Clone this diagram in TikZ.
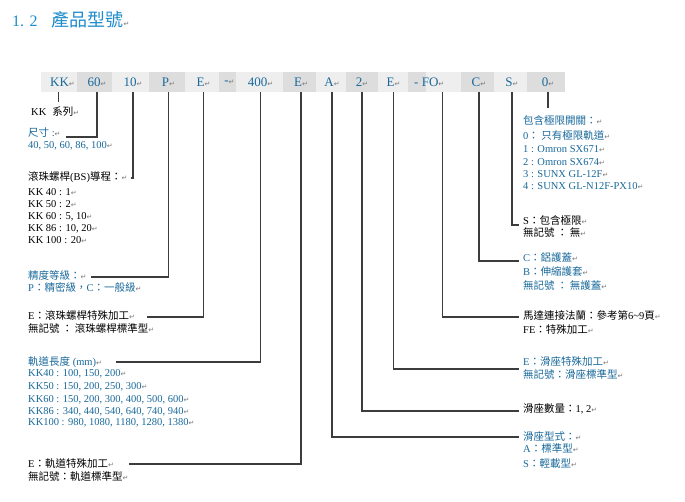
\documentclass[tikz,border=0pt]{standalone}
\usepackage{fontspec}
\setmainfont{Liberation Serif}
\newfontfamily\cjk{Noto Sans CJK TC}
\newfontfamily\dvs{DejaVu Sans}
\definecolor{tblue}{RGB}{30,140,205}
\definecolor{bblue}{RGB}{25,105,155}
\definecolor{cellL}{RGB}{238,238,238}
\definecolor{cellD}{RGB}{221,221,221}
\definecolor{linec}{RGB}{60,60,60}
\definecolor{retc}{RGB}{120,120,120}
\newcommand\cj[1]{{\cjk #1}}
\newcommand\rt{{\color{retc}\dvs\fontsize{7}{8}\selectfont ↵}}
\tikzset{
  txt/.style={anchor=west, inner sep=0pt, font=\fontsize{10.5}{12}\selectfont, text height=8pt, text depth=2pt},
  bl/.style={txt, text=bblue},
  bk/.style={txt, text=black},
  hdr/.style={inner sep=0pt, minimum height=20pt, font=\fontsize{13}{14}\selectfont, text=bblue},
  conn/.style={draw=linec, line width=1.1pt},
}
\begin{document}
\begin{tikzpicture}[x=1pt,y=-1pt]
\useasboundingbox (0,0) rectangle (685,502);
\fill[white] (0,0) rectangle (685,502);
% title
\node[anchor=west, inner sep=0pt, text=tblue] (title) at (12,20)
  {\fontsize{16}{18}\selectfont 1. 2\hspace{14pt}\cj{\fontsize{18}{20}\selectfont 產品型號}\rt};
% header cells
\foreach \a/\b/\c in {41/77/cellL, 77/112/cellD, 112/149/cellL, 149/185/cellD,
  185/219/cellL, 219/236/cellD, 236/283/cellL, 283/316/cellD, 316/346/cellL,
  346/378/cellD, 378/408/cellL, 408/426/cellD, 426/461/cellL, 461/494/cellD,
  494/527/cellL, 527/565/cellD}
  \fill[\c] (\a,72) rectangle (\b,92);
% header texts
\node[hdr] (hkk) at (62.5,82) {KK\rt};
\node[hdr] (h60) at (97,82) {60\rt};
\node[hdr] (h10) at (133,82) {10\rt};
\node[hdr] (hp) at (168.5,82) {P\rt};
\node[hdr] (he1) at (203.5,82) {E\rt};
\node[hdr] (hdash) at (229.5,82) {-\rt};
\node[hdr] (h400) at (260.5,82) {400\rt};
\node[hdr] (he2) at (301,82) {E\rt};
\node[hdr] (ha) at (332,82) {A\rt};
\node[hdr] (h2) at (362,82) {2\rt};
\node[hdr] (he3) at (393.5,82) {E\rt};
\node[hdr,anchor=west] (hfo) at (414,82) {- FO\rt};
\node[hdr] (hc) at (479,82) {C\rt};
\node[hdr] (hs) at (512,82) {S\rt};
\node[hdr] (h0) at (548,82) {0\rt};
% left labels
\node[bk] (kkser) at (31,113) {KK\hspace{6pt}\cj{系列}\rt};
\node[bl] (size) at (28,134) {\cj{尺寸} :\rt};
\node[bl] (sizev) at (28,146) {40, 50, 60, 86, 100\rt};
\node[bk] (lead) at (28,178) {\cj{滾珠螺桿}(BS)\cj{導程：}\rt};
\node[bk] (lead1) at (28,193) {KK 40 : 1\rt};
\node[bk] (lead2) at (28,205) {KK 50 : 2\rt};
\node[bk] (lead3) at (28,217) {KK 60 : 5, 10\rt};
\node[bk] (lead4) at (28,229) {KK 86 : 10, 20\rt};
\node[bk] (lead5) at (28,241) {KK 100 : 20\rt};
\node[bl] (prec) at (28,277) {\cj{精度等級：}\rt};
\node[bl] (prec1) at (28,289) {P\cj{：精密級，}C\cj{：一般級}\rt};
\node[bk] (ebs) at (28,317) {E\cj{：滾珠螺桿特殊加工}\rt};
\node[bk] (ebs1) at (28,330) {\cj{無記號 ： 滾珠螺桿標準型}\rt};
\node[bl] (rail) at (28,362) {\cj{軌道長度} (mm)\rt};
\node[bl] (rail1) at (28,373) {KK40 : 100, 150, 200\rt};
\node[bl] (rail2) at (28,386) {KK50 : 150, 200, 250, 300\rt};
\node[bl] (rail3) at (28,399) {KK60 : 150, 200, 300, 400, 500, 600\rt};
\node[bl] (rail4) at (28,411) {KK86 : 340, 440, 540, 640, 740, 940\rt};
\node[bl] (rail5) at (28,422) {KK100 : 980, 1080, 1180, 1280, 1380\rt};
\node[bk] (erail) at (28,464) {E\cj{：軌道特殊加工}\rt};
\node[bk] (erail1) at (28,477) {\cj{無記號：軌道標準型}\rt};
% right labels
\node[bl] (lim) at (523,122) {\cj{包含極限開關：}\rt};
\node[bl] (lim0) at (523,137) {0\cj{： 只有極限軌道}\rt};
\node[bl] (lim1) at (523,150) {1 : Omron SX671\rt};
\node[bl] (lim2) at (523,163) {2 : Omron SX674\rt};
\node[bl] (lim3) at (523,175) {3 : SUNX GL-12F\rt};
\node[bl] (lim4) at (523,187) {4 : SUNX GL-N12F-PX10\rt};
\node[bk] (slim) at (523,222) {S\cj{：包含極限}\rt};
\node[bk] (slim1) at (523,234) {\cj{無記號 ： 無}\rt};
\node[bl] (cov) at (523,259) {C\cj{：鋁護蓋}\rt};
\node[bl] (cov1) at (523,273) {B\cj{：伸縮護套}\rt};
\node[bl] (cov2) at (523,287) {\cj{無記號 ： 無護蓋}\rt};
\node[bk] (motor) at (523,317) {\cj{馬達連接法蘭：參考第}6\textasciitilde 9\cj{頁}\rt};
\node[bk] (motor1) at (523,331) {FE\cj{：特殊加工}\rt};
\node[bl] (eslide) at (523,363) {E\cj{：滑座特殊加工}\rt};
\node[bl] (eslide1) at (523,375) {\cj{無記號：滑座標準型}\rt};
\node[bk] (nslide) at (523,409) {\cj{滑座數量：}1, 2\rt};
\node[bl] (tslide) at (523,437) {\cj{滑座型式：}\rt};
\node[bl] (tslide1) at (523,449) {A\cj{：標準型}\rt};
\node[bl] (tslide2) at (523,464) {S\cj{：輕載型}\rt};
% connectors
\draw[conn] ([xshift=-4pt]hkk.south) -- ([xshift=-4pt,yshift=6pt]hkk.south |- kkser.north);
\draw[conn] (h60.south) |- ([xshift=5pt,yshift=-3pt]size.east);
\draw[conn] (h10.south) |- ([xshift=3pt]lead.east);
\draw[conn] (hp.south) |- ([xshift=4pt]prec.east);
\draw[conn] (he1.south) |- ([xshift=12pt]ebs.east);
\draw[conn] (h400.south) |- ([xshift=14pt]rail.east);
\draw[conn] (he2.south) |- ([xshift=15pt]erail.east);
\draw[conn] (h0.south) -- ([yshift=9pt]h0.south |- lim.north);
\draw[conn] (hs.south) |- ([xshift=-4pt,yshift=-3pt]slim.west);
\draw[conn] (hc.south) |- ([xshift=-4pt,yshift=-2pt]cov.west);
\draw[conn] ([xshift=-2pt]hfo.south east) |- ([xshift=-4pt]motor.west);
\draw[conn] (he3.south) |- ([xshift=-4pt,yshift=-6pt]eslide.west);
\draw[conn] (h2.south) |- ([xshift=-4pt,yshift=-2pt]nslide.west);
\draw[conn] (ha.south) |- ([xshift=-4pt]tslide.west);
\end{tikzpicture}
\end{document}
